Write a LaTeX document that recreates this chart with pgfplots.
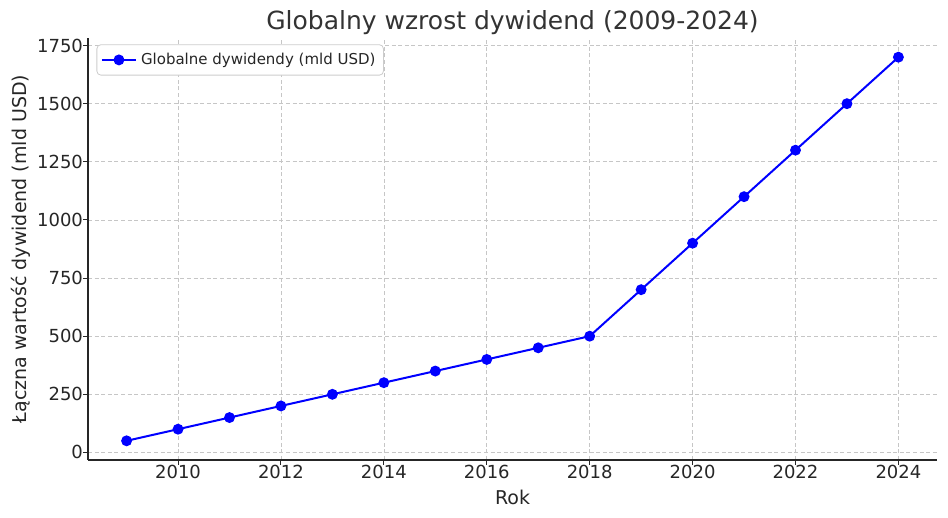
\documentclass[border=0pt]{standalone}
\usepackage{pgfplots}
\pgfplotsset{compat=1.18}
\usepackage{fontspec}
\setmainfont{DejaVu Sans}
\begin{document}
\begin{tikzpicture}
\useasboundingbox (-44pt,-29pt) rectangle (430pt,230pt);
\begin{axis}[
  at={(0,0)}, anchor=south west,
  scale only axis, width=424.5pt, height=211pt,
  xmin=2008.25, xmax=2024.75, ymin=-32.5, ymax=1782.5,
  xtick={2010,2012,...,2024}, ytick={0,250,...,1750},
  /pgf/number format/assume math mode=true,
  /pgf/number format/1000 sep={},
  axis lines=left, axis line style={-, line width=0.6pt, black!85},
  tick align=outside, tick style={black!85, line width=0.5pt},
  major tick length=2.5pt,
  ticklabel style={font=\fontsize{9}{10}\selectfont, text=black!85},
  xticklabel style={yshift=3.5pt},
  yticklabel style={xshift=3.5pt},
  grid=major, grid style={dash pattern=on 2pt off 1.3pt, gray!45, line width=0.35pt},
  title={Globalny wzrost dywidend (2009-2024)},
  title style={font=\fontsize{12.5}{14}\selectfont, text=black!80, yshift=-8pt},
  xlabel={Rok}, ylabel={Łączna wartość dywidend (mld USD)},
  label style={font=\fontsize{9.5}{11}\selectfont, text=black!85},
  xlabel style={yshift=1pt},
  ylabel style={yshift=-3.5pt},
  legend style={at={(0.01,0.985)}, anchor=north west, font=\fontsize{7.5}{9}\selectfont,
    draw=gray!40, rounded corners=2pt, text=black!85, inner sep=2pt},
  legend cell align=left,
]
\addplot[blue, line width=1pt, mark=*, mark size=2.2pt, mark options={solid, fill=blue}]
coordinates {
(2009,50) (2010,100) (2011,150) (2012,200) (2013,250) (2014,300) (2015,350) (2016,400)
(2017,450) (2018,500) (2019,700) (2020,900) (2021,1100) (2022,1300) (2023,1500) (2024,1700)
};
\addlegendentry{Globalne dywidendy (mld USD)}
\end{axis}
\end{tikzpicture}
\end{document}
